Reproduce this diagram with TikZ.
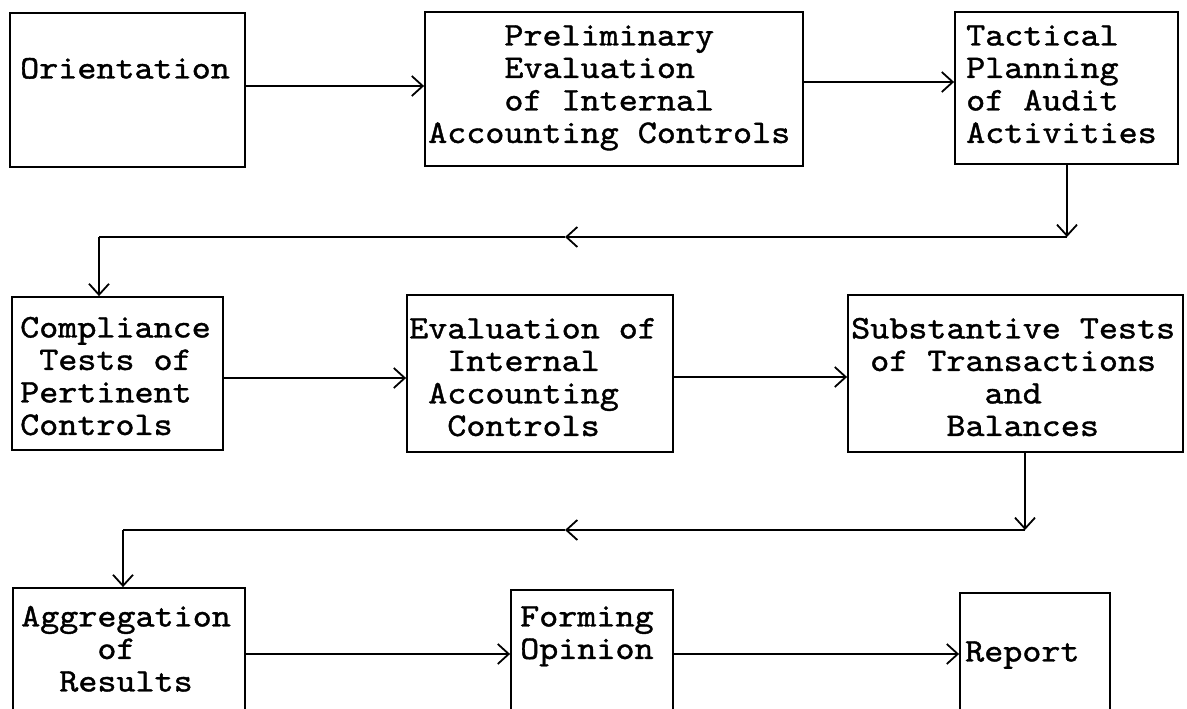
\documentclass[tikz,border=0pt]{standalone}
\usepackage{fontspec}
\usetikzlibrary{arrows.meta}
\newfontfamily\twfont{lmmono10-regular}[Extension=.otf, FakeBold=1.2, FakeStretch=1.1]
\newcommand\twsize{\fontsize{33}{32.5}\selectfont}
\newlength\cw
\newcommand\ind[1]{\hspace*{#1\cw}}
\tikzset{
  box/.style={draw, line width=1.8pt, rectangle, inner sep=0pt},
  txt/.style={anchor=north west, inner sep=0pt, align=left,
    font=\twfont\twsize},
  arr/.style={line width=1.8pt, -{Straight Barb[length=11pt,width=20pt,line width=1.8pt]}},
  seg/.style={line width=1.8pt}
}
\begin{document}
\settowidth\cw{\twfont\twsize M}
\begin{tikzpicture}[x=1pt,y=-1pt]
\useasboundingbox (0,0) rectangle (1187,709);
% boxes
\node[box, minimum width=235pt, minimum height=154pt] (orient) at (127.5,90) {};
\node[box, minimum width=378pt, minimum height=154pt] (prelim) at (614,89) {};
\node[box, minimum width=223pt, minimum height=152pt] (tact) at (1066.5,88) {};
\node[box, minimum width=211pt, minimum height=153pt] (comp) at (117.5,373.5) {};
\node[box, minimum width=266pt, minimum height=157pt] (evalc) at (540,373.5) {};
\node[box, minimum width=335pt, minimum height=157pt] (subst) at (1015.5,373.5) {};
\node[box, minimum width=232pt, minimum height=142pt] (aggr) at (129,659) {};
\node[box, minimum width=162pt, minimum height=140pt] (form) at (592,660) {};
\node[box, minimum width=150pt, minimum height=137pt] (report) at (1035,661.5) {};
% texts
\node[txt] (torient) at (20,55.5) {\strut Orientation};
\node[txt] (tprelim) at (428,22.5) {\strut\ind{4}Preliminary\\\ind{4}Evaluation\\\ind{4}of Internal\\Accounting Controls};
\node[txt] (ttact) at (966,22.5) {\strut Tactical\\Planning\\of Audit\\Activities};
\node[txt] (tcomp) at (20,314.5) {\strut Compliance\\\ind{1}Tests of\\Pertinent\\Controls};
\node[txt] (tevalc) at (409,315.5) {\strut Evaluation of\\\ind{2}Internal\\\ind{1}Accounting\\\ind{2}Controls};
\node[txt] (tsubst) at (851,315.5) {\strut Substantive Tests\\\ind{1}of Transactions\\\ind{7}and\\\ind{5}Balances};
\node[txt] (taggr) at (21,603.5) {\strut Aggregation\\\ind{4}of\\\ind{2}Results};
\node[txt] (tform) at (520,603.5) {\strut Forming\\Opinion};
\node[txt] (treport) at (965,638.5) {\strut Report};
% connector coordinates
\coordinate (k1) at (1067,237);
\coordinate (m1) at (565,237);
\coordinate (k2) at (99,237);
\coordinate (k3) at (1025,530);
\coordinate (m2) at (565,530);
\coordinate (k4) at (123,530);
% row 1
\draw[arr] (orient.east |- 0,86) -- (prelim.west |- 0,86);
\draw[arr] (prelim.east |- 0,82) -- (tact.west |- 0,82);
\draw[arr] (tact.south -| k1) -- (k1);
\draw[arr] (k1) -- (m1);
\draw[seg] (m1) -- (k2);
\draw[arr] (k2) -- (comp.north -| k2);
% row 2
\draw[arr] (comp.east |- 0,378) -- (evalc.west |- 0,378);
\draw[arr] (evalc.east |- 0,377) -- (subst.west |- 0,377);
\draw[arr] (subst.south -| k3) -- (k3);
\draw[arr] (k3) -- (m2);
\draw[seg] (m2) -- (k4);
\draw[arr] (k4) -- (aggr.north -| k4);
% row 3
\draw[arr] (aggr.east |- 0,654) -- (form.west |- 0,654);
\draw[arr] (form.east |- 0,654) -- (report.west |- 0,654);
\end{tikzpicture}
\end{document}
